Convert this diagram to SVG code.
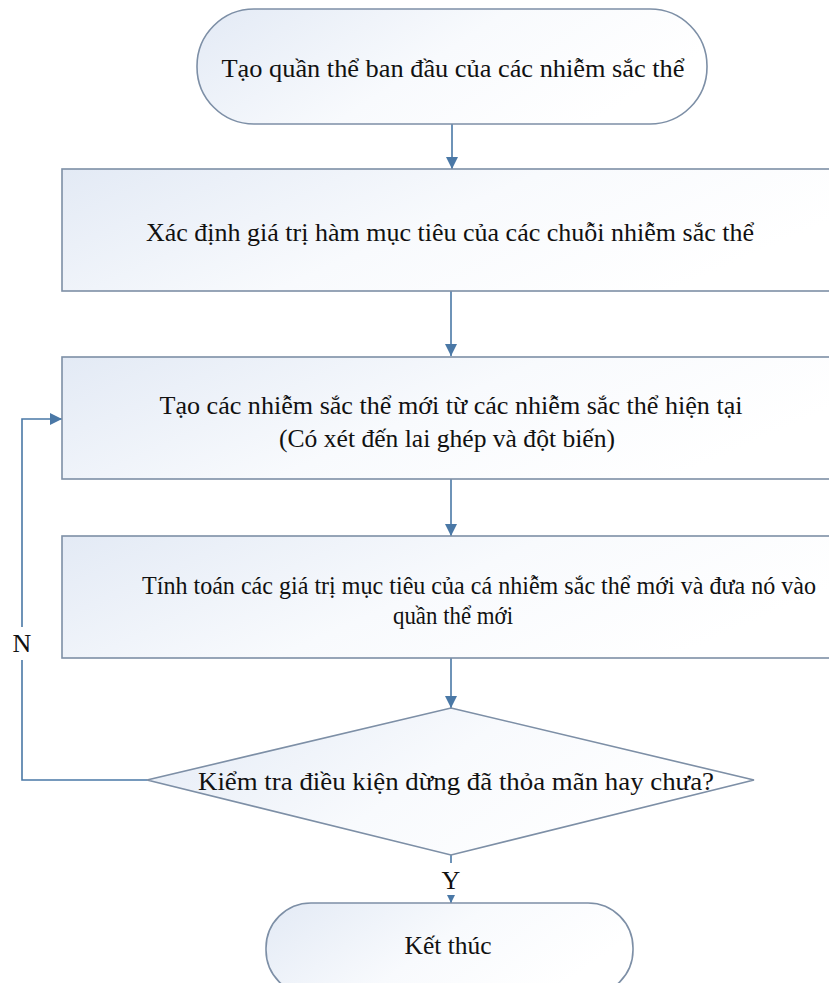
<svg xmlns="http://www.w3.org/2000/svg" width="829" height="983" viewBox="0 0 829 983">
  <style>
    .shape { fill: url(#softFill); stroke: #7d8fa6; stroke-width: 1.6; }
    .label { font-family: "Liberation Serif", "Times New Roman", serif; font-size: 26px; fill: #111; text-anchor: middle; dominant-baseline: central; }
    .flow { fill: none; stroke: #4a78a6; stroke-width: 1.6; }
  </style>
  <defs>
    <linearGradient id="softFill" x1="0" y1="0" x2="1" y2="0.35">
      <stop offset="0" stop-color="#e3eaf5"/>
      <stop offset="0.55" stop-color="#f8fafd"/>
      <stop offset="1" stop-color="#ffffff"/>
    </linearGradient>
    <marker id="arrowBig" viewBox="0 0 10 10" refX="10" refY="5" markerWidth="12" markerHeight="12" orient="auto" markerUnits="userSpaceOnUse">
      <path d="M0,0 L10,5 L0,10 z" fill="#4a78a6"/>
    </marker>
    <marker id="arrowSmall" viewBox="0 0 10 10" refX="10" refY="5" markerWidth="8" markerHeight="9" orient="auto" markerUnits="userSpaceOnUse">
      <path d="M0,0 L10,5 L0,10 z" fill="#4a78a6"/>
    </marker>
  </defs>

  <rect width="829" height="983" fill="#ffffff"/>

  <!-- connectors -->
  <g id="connectors">
    <path class="flow" d="M452,124 L452,169" marker-end="url(#arrowBig)"/>
    <path class="flow" d="M451,291 L451,356" marker-end="url(#arrowBig)"/>
    <path class="flow" d="M451,479 L451,536" marker-end="url(#arrowBig)"/>
    <path class="flow" d="M451,658 L451,708" marker-end="url(#arrowBig)"/>
    <!-- "no" branch loops back to the generation step -->
    <path class="flow" d="M147,780 L22,780 L22,660"/>
    <path class="flow" d="M22,627 L22,419 L62,419" marker-end="url(#arrowBig)"/>
    <text class="label" x="22" y="643">N</text>
    <!-- "yes" branch to the end -->
    <path class="flow" d="M451,855 L451,863"/>
    <path class="flow" d="M451,895 L451,903" marker-end="url(#arrowSmall)"/>
    <text class="label" x="451" y="880">Y</text>
  </g>

  <g id="start">
    <rect class="shape" x="197" y="9" width="510" height="115" rx="57" ry="57"/>
    <text class="label" x="453" y="68" textLength="463" lengthAdjust="spacingAndGlyphs">Tạo quần thể ban đầu của các nhiễm sắc thể</text>
  </g>

  <g id="evaluate">
    <rect class="shape" x="62" y="169" width="790" height="122"/>
    <text class="label" x="450" y="232" textLength="608" lengthAdjust="spacingAndGlyphs">Xác định giá trị hàm mục tiêu của các chuỗi nhiễm sắc thể</text>
  </g>

  <g id="generate">
    <rect class="shape" x="62" y="357" width="790" height="122"/>
    <text class="label" x="451" y="405" textLength="583" lengthAdjust="spacingAndGlyphs">Tạo các nhiễm sắc thể mới từ các nhiễm sắc thể hiện tại</text>
    <text class="label" x="447" y="438" textLength="336" lengthAdjust="spacingAndGlyphs">(Có xét đến lai ghép và đột biến)</text>
  </g>

  <g id="update">
    <rect class="shape" x="62" y="536" width="790" height="122"/>
    <text class="label" x="479" y="585" textLength="674" lengthAdjust="spacingAndGlyphs">Tính toán các giá trị mục tiêu của cá nhiễm sắc thể mới và đưa nó vào</text>
    <text class="label" x="453" y="615" textLength="120" lengthAdjust="spacingAndGlyphs">quần thể mới</text>
  </g>

  <g id="check">
    <polygon class="shape" points="451,708 754,780 451,855 147,780"/>
    <text class="label" x="456" y="781" textLength="516" lengthAdjust="spacingAndGlyphs">Kiểm tra điều kiện dừng đã thỏa mãn hay chưa?</text>
  </g>

  <g id="end">
    <rect class="shape" x="266" y="903" width="367" height="92" rx="45" ry="45"/>
    <text class="label" x="448" y="945" textLength="87" lengthAdjust="spacingAndGlyphs">Kết thúc</text>
  </g>
</svg>
